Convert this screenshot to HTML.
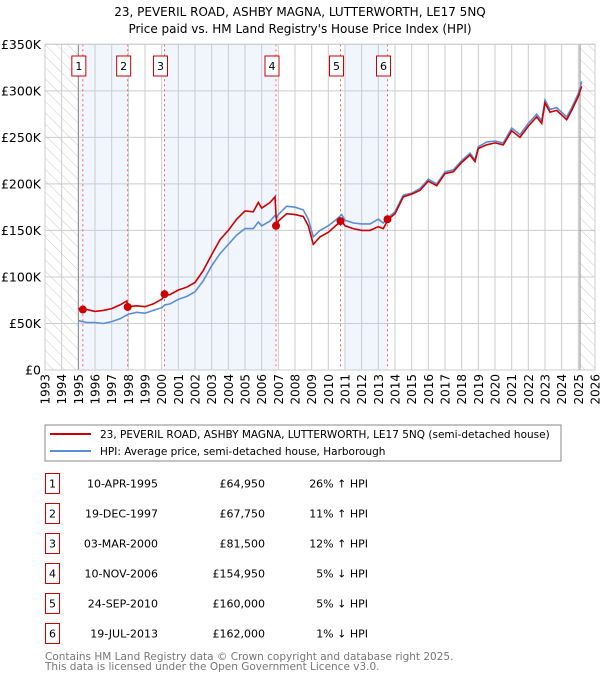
<!DOCTYPE html>
<html><head><meta charset="utf-8"><style>
body{margin:0;background:#fff;}
svg text{font-family:"DejaVu Sans","Liberation Sans",sans-serif;}
</style></head><body>
<svg id="chart" width="600" height="680" xmlns="http://www.w3.org/2000/svg">
<defs><pattern id="hatch" patternUnits="userSpaceOnUse" width="8" height="8" patternTransform="rotate(-45)"><rect width="8" height="8" fill="#fff"/><line x1="0" y1="0" x2="0" y2="8" stroke="#ccc" stroke-width="1"/></pattern></defs>
<text x="300" y="16" text-anchor="middle" font-size="12">23, PEVERIL ROAD, ASHBY MAGNA, LUTTERWORTH, LE17 5NQ</text>
<text x="300" y="33" text-anchor="middle" font-size="12">Price paid vs. HM Land Registry's House Price Index (HPI)</text>
<g id="plot"></g>
<g>
<rect x="45" y="425" width="516" height="36" fill="#fff" stroke="#888"/>
<line x1="50" y1="434" x2="91" y2="434" stroke="#cc0000" stroke-width="2"/>
<text x="100" y="438" font-size="10.5">23, PEVERIL ROAD, ASHBY MAGNA, LUTTERWORTH, LE17 5NQ (semi-detached house)</text>
<line x1="50" y1="451" x2="91" y2="451" stroke="#5b8dd6" stroke-width="2"/>
<text x="100" y="455" font-size="10.5">HPI: Average price, semi-detached house, Harborough</text>
</g>
<g id="table"></g>
<text x="45" y="660" font-size="10.5" fill="#777">Contains HM Land Registry data © Crown copyright and database right 2025.</text>
<text x="45" y="670" font-size="10.5" fill="#777">This data is licensed under the Open Government Licence v3.0.</text>
</svg>
<script>
const years=[1995.0,1995.5,1996.0,1996.5,1997.0,1997.5,1997.9,1998.0,1998.5,1999.0,1999.5,2000.0,2000.2,2000.5,2001.0,2001.5,2002.0,2002.5,2003.0,2003.5,2004.0,2004.5,2005.0,2005.5,2005.8,2006.0,2006.5,2006.8,2006.9,2007.0,2007.5,2008.0,2008.5,2008.8,2009.1,2009.5,2010.0,2010.5,2010.8,2011.0,2011.5,2012.0,2012.5,2013.0,2013.3,2013.6,2014.0,2014.5,2015.0,2015.5,2016.0,2016.5,2017.0,2017.5,2018.0,2018.5,2018.8,2019.0,2019.5,2020.0,2020.5,2021.0,2021.5,2022.0,2022.5,2022.8,2023.0,2023.3,2023.7,2024.0,2024.3,2024.6,2025.0,2025.2];
const hpi=[53,51,51,50,52,55,59,60,62,61,64,67,70,71,76,79,84,96,112,125,135,145,152,152,159,155,160,166,163,167,176,175,172,162,143,150,155,162,167,161,158,157,157,162,158,164,170,188,190,195,205,200,213,215,225,233,226,240,245,246,244,260,253,265,275,268,290,280,282,277,272,282,297,310];
const price=[66,65,63,64,66,70,74,68,69,68,71,76,80,81,86,89,94,107,124,140,150,162,171,170,180,174,180,186,155,160,168,167,165,155,135,143,148,156,160,155,152,150,150,154,152,162,168,186,189,193,203,198,211,213,223,231,224,238,242,244,242,257,250,262,272,265,287,277,279,274,269,279,294,305];
const saleYears=[1995.27,1997.96,2000.17,2006.86,2010.73,2013.55];
const salePrices=[64.95,67.75,81.5,154.95,160,162];
const saleLabels=["1","2","3","4","5","6"];
const saleDates=["10-APR-1995","19-DEC-1997","03-MAR-2000","10-NOV-2006","24-SEP-2010","19-JUL-2013"];
const salePriceText=["£64,950","£67,750","£81,500","£154,950","£160,000","£162,000"];
const saleHpiText=["26% ↑ HPI","11% ↑ HPI","12% ↑ HPI","5% ↓ HPI","5% ↓ HPI","1% ↓ HPI"];
const yTicks=[0,50,100,150,200,250,300,350];
const yTickLabels=["£0","£50K","£100K","£150K","£200K","£250K","£300K","£350K"];
const xTicks=[1993,1994,1995,1996,1997,1998,1999,2000,2001,2002,2003,2004,2005,2006,2007,2008,2009,2010,2011,2012,2013,2014,2015,2016,2017,2018,2019,2020,2021,2022,2023,2024,2025,2026];

const NS="http://www.w3.org/2000/svg";
const L=45,R=595,T=44.3,B=370;
const x=v=>L+(v-1993)/(2026-1993)*(R-L);
const y=v=>B-v/350*(B-T);
const plot=document.getElementById('plot');
function mk(tag,attrs,parent){const e=document.createElementNS(NS,tag);for(const k in attrs)e.setAttribute(k,attrs[k]);(parent||plot).appendChild(e);return e;}

let bg=mk('rect',{x:L,y:T,width:R-L,height:B-T,fill:'#fff'});


let h1=mk('rect',{x:L,y:T,width:x(1995)-L,height:B-T,fill:'url(#hatch)'});


let h2=mk('rect',{x:x(2025.1),y:T,width:R-x(2025.1),height:B-T,fill:'url(#hatch)'});


const bands=[[1995,saleYears[1]],[saleYears[2],saleYears[3]],[2010.96,saleYears[5]]];
bands.forEach(b=>{const r=mk('rect',{x:x(b[0]),y:T,width:x(b[1])-x(b[0]),height:B-T,fill:'#eef3fc',opacity:0.8});

});
xTicks.forEach(t=>{const g=mk('line',{x1:x(t),x2:x(t),y1:T,y2:B,stroke:'#ccc','stroke-width':1});


const tx=mk('text',{x:0,y:0,transform:`translate(${x(t)+4.5},${B+4}) rotate(-90)`,'text-anchor':'end','font-size':12});
tx.textContent=t;

});
yTicks.forEach((t,i)=>{const g=mk('line',{x1:L,x2:R,y1:y(t),y2:y(t),stroke:'#ccc','stroke-width':1});


const tx=mk('text',{x:L-4,y:y(t)+4.5,'text-anchor':'end','font-size':12.5});
tx.textContent=yTickLabels[i];

});
let v1=mk('line',{x1:x(1995),x2:x(1995),y1:T,y2:B,stroke:'#888','stroke-width':1});


let v2=mk('line',{x1:x(2025.1),x2:x(2025.1),y1:T,y2:B,stroke:'#888','stroke-width':1});


saleYears.forEach((s,i)=>{const l=mk('line',{x1:x(s),x2:x(s),y1:T,y2:B,stroke:'#f06060','stroke-width':1,'stroke-dasharray':'2,3'});

});
const pts=(arr)=>years.map((yr,i)=>x(yr).toFixed(1)+','+y(arr[i]).toFixed(1)).join(' ');
let hl=mk('polyline',{points:pts(hpi),fill:'none',stroke:'#5b8dd6','stroke-width':1.6});


let pl=mk('polyline',{points:pts(price),fill:'none',stroke:'#cc0000','stroke-width':1.6});


saleYears.forEach((s,i)=>{const c=mk('circle',{cx:x(s),cy:y(salePrices[i]),r:4,fill:'#cc0000'});


const bx=mk('rect',{x:x(s)-11,y:56,width:14,height:20,fill:'#fff',stroke:'#cc0000','stroke-width':1});


const t=mk('text',{x:x(s)-4,y:70,'text-anchor':'middle','font-size':11});
t.textContent=saleLabels[i];

});
let fr=mk('rect',{x:L,y:T,width:R-L,height:B-T,fill:'none',stroke:'#ccc'});



const tbl=document.getElementById('table');
saleLabels.forEach((lab,i)=>{const cy=483.5+i*30;
const row=mk('g',{},tbl);


mk('rect',{x:45.5,y:cy-10,width:14,height:20,fill:'#fff',stroke:'#cc0000'},row);
const a=mk('text',{x:52.5,y:cy+4,'text-anchor':'middle','font-size':11},row);a.textContent=lab;
const b=mk('text',{x:158,y:cy+4,'text-anchor':'end','font-size':11},row);b.textContent=saleDates[i];
const c=mk('text',{x:265,y:cy+4,'text-anchor':'end','font-size':11},row);c.textContent=salePriceText[i];
const d=mk('text',{x:368,y:cy+4,'text-anchor':'end','font-size':11},row);d.textContent=saleHpiText[i];});
</script>
</body></html>
